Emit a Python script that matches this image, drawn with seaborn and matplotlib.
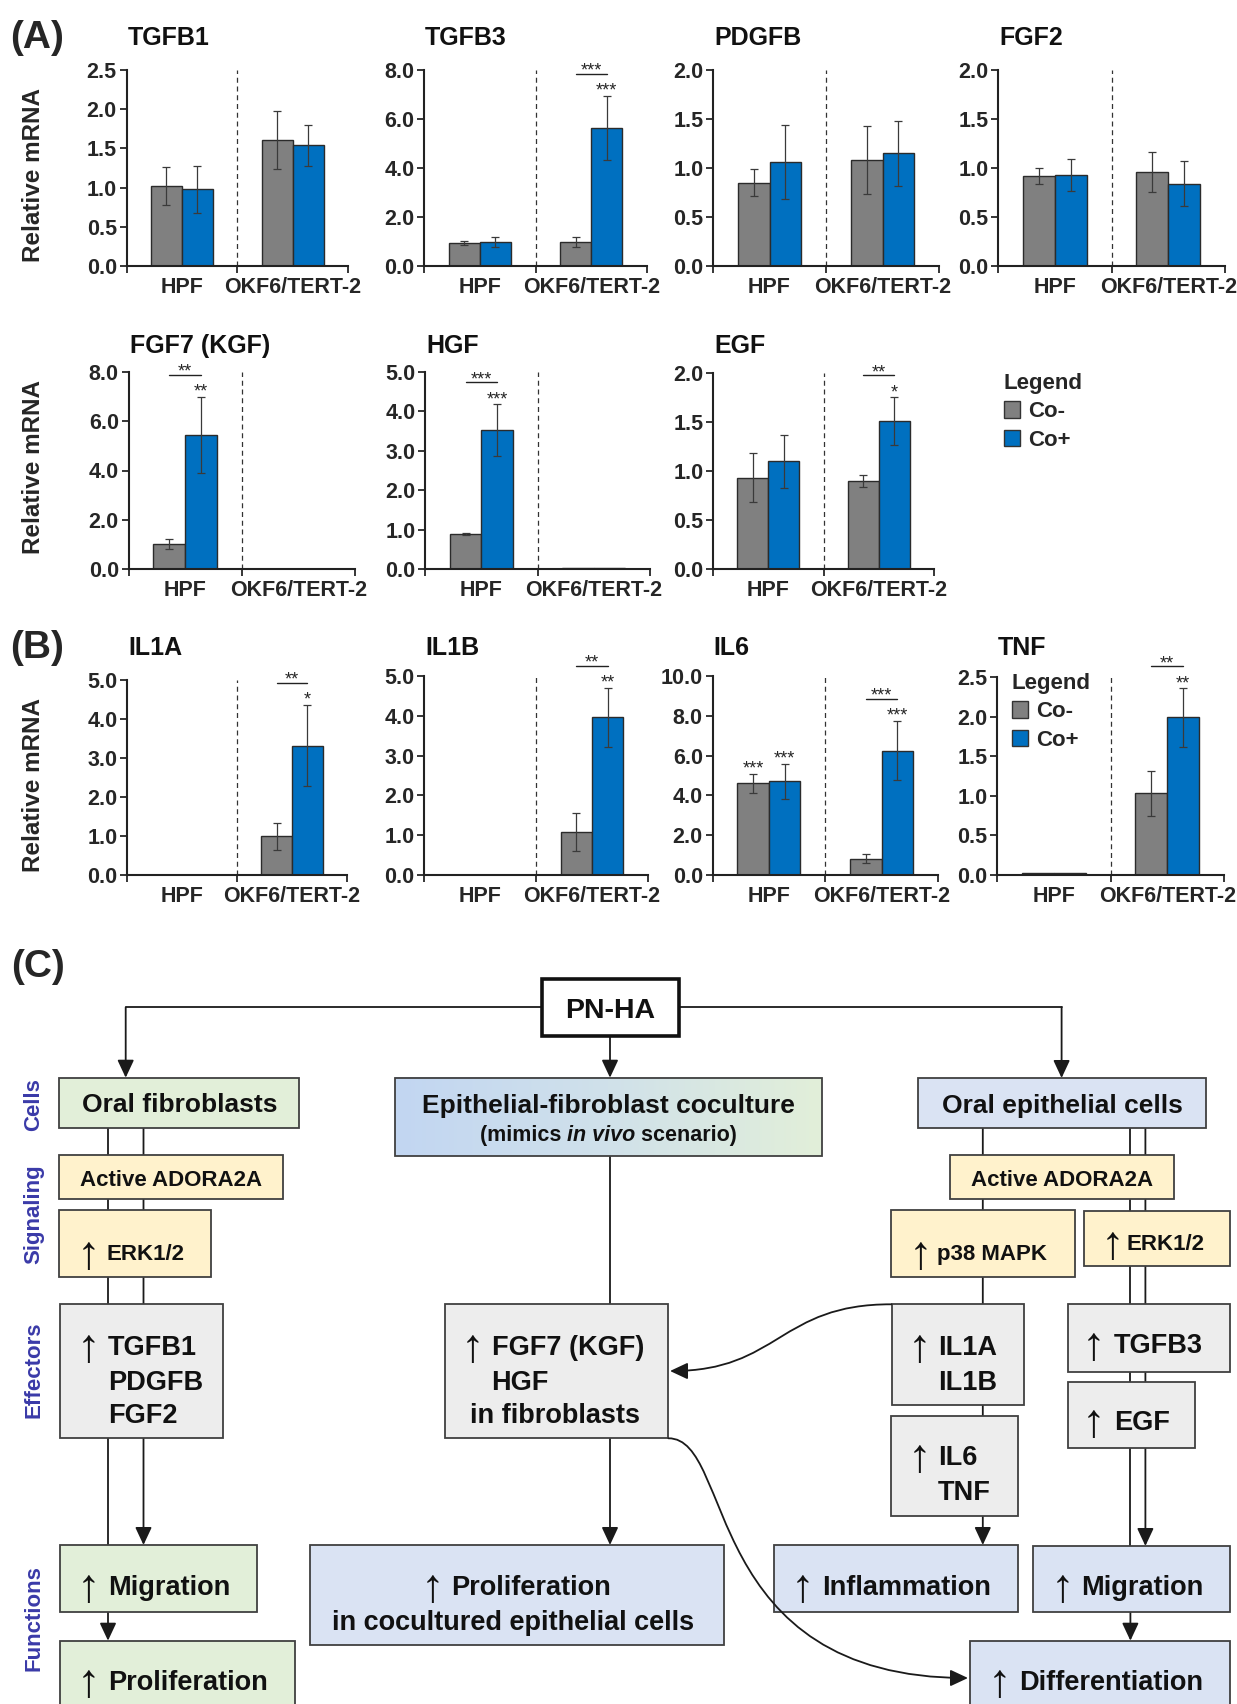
import numpy as np
import pandas as pd
import seaborn as sns
import matplotlib.pyplot as plt
from matplotlib.patches import Rectangle, Patch, FancyArrowPatch
from matplotlib.path import Path
from matplotlib.transforms import ScaledTranslation
from matplotlib.colors import LinearSegmentedColormap

sns.set_style('ticks')
plt.rcParams['font.family'] = ['Liberation Sans', 'DejaVu Sans']
plt.rcParams['font.weight'] = 'bold'

W, H = 1237, 1704

# ---------------- data: relative mRNA, order [HPF, OKF6/TERT-2] ----------------
genes = ['TGFB1', 'TGFB3', 'PDGFB', 'FGF2', 'FGF7 (KGF)', 'HGF', 'EGF',
         'IL1A', 'IL1B', 'IL6', 'TNF']
cells = ['HPF', 'OKF6/TERT-2']
conditions = ['Co-', 'Co+']
co_minus = [[1.02, 1.61], [0.95, 0.98], [0.85, 1.08], [0.92, 0.96], [1.01, 0.0], [0.89, 0.02],
            [0.93, 0.90], [0.01, 0.99], [0.0, 1.08], [4.60, 0.82], [0.02, 1.03]]
co_minus_sd = [[0.24, 0.37], [0.08, 0.22], [0.14, 0.35], [0.08, 0.20], [0.20, 0.0], [0.02, 0.0],
               [0.25, 0.06], [0.0, 0.34], [0.0, 0.47], [0.50, 0.22], [0.0, 0.28]]
co_plus = [[0.98, 1.54], [0.97, 5.64], [1.06, 1.15], [0.93, 0.84], [5.44, 0.0], [3.52, 0.02],
           [1.10, 1.51], [0.01, 3.32], [0.0, 3.96], [4.70, 6.25], [0.02, 1.99]]
co_plus_sd = [[0.30, 0.26], [0.20, 1.30], [0.38, 0.33], [0.16, 0.23], [1.55, 0.0], [0.66, 0.0],
              [0.27, 0.245], [0.0, 1.04], [0.0, 0.75], [0.90, 1.50], [0.0, 0.37]]
ymax = [2.5, 8, 2, 2, 8, 5, 2, 5, 5, 10, 2.5]
ystep = [0.5, 2, 0.5, 0.5, 2, 1, 0.5, 1, 1, 2, 0.5]

# significance: (gene, cell index, text) bracket Co- vs Co+; (gene, cell, condition, text) over a bar
brackets = [('TGFB3', 1, '***'), ('FGF7 (KGF)', 0, '**'), ('HGF', 0, '***'), ('EGF', 1, '**'),
            ('IL1A', 1, '**'), ('IL1B', 1, '**'), ('IL6', 1, '***'), ('TNF', 1, '**')]
bar_stars = [('TGFB3', 1, 1, '***'), ('FGF7 (KGF)', 0, 1, '**'), ('HGF', 0, 1, '***'),
             ('EGF', 1, 1, '*'), ('IL1A', 1, 1, '*'), ('IL1B', 1, 1, '**'),
             ('IL6', 0, 0, '***'), ('IL6', 0, 1, '***'), ('IL6', 1, 1, '***'), ('TNF', 1, 1, '**')]

palette = {'Co-': '#808080', 'Co+': '#0070c0'}

# axes boxes in pixels: left, top, right, bottom
rects = [(126.5, 70, 348, 266), (424, 70, 647, 266), (713, 70, 939, 266), (998, 70, 1225, 266),
         (128.5, 372, 355, 569), (425, 372, 650, 569), (713, 373, 934, 569),
         (127.3, 680, 347, 875), (424, 676, 648, 875), (712.5, 676, 938, 875), (997, 677, 1224, 875)]
title_base = [45, 45, 45, 45, 353, 353, 353, 655, 655, 655, 655]

fig = plt.figure(figsize=(W / 100, H / 100), dpi=100)

# overlay axes in pixel units for the labels and the diagram
axc = fig.add_axes([0, 0, 1, 1], zorder=0)
axc.set_xlim(0, W)
axc.set_ylim(H, 0)
axc.axis('off')


def put(x, y, s, size, ha='left', weight='bold', style='normal', color='#111111', **kw):
    return axc.text(x, y + 0.36 * size * 100 / 72, s, fontsize=size, ha=ha, va='baseline',
                    fontweight=weight, fontstyle=style, color=color, **kw)


def draw_gene(i):
    l, t, r, b = rects[i]
    ax = fig.add_axes([l / W, 1 - b / H, (r - l) / W, (b - t) / H], zorder=1)
    ax.patch.set_alpha(0)
    df = pd.DataFrame({'cell': cells * 2,
                       'cond': [conditions[0]] * 2 + [conditions[1]] * 2,
                       'value': co_minus[i] + co_plus[i]})
    sns.barplot(data=df, x='cell', y='value', hue='cond', order=cells, hue_order=conditions,
                palette=palette, saturation=1, width=0.56, errorbar=None, edgecolor='#2b2b2b',
                linewidth=1, legend=False, ax=ax)
    sds = [co_minus_sd[i], co_plus_sd[i]]
    centers = {}
    tops = {}
    bar_groups = list(ax.containers)
    for k, cont in enumerate(bar_groups):
        for j, bar in enumerate(cont.patches):
            xc = bar.get_x() + bar.get_width() / 2
            centers[(j, k)] = xc
            tops[(j, k)] = bar.get_height() + sds[k][j]
            if sds[k][j] > 0:
                ax.errorbar(xc, bar.get_height(), yerr=sds[k][j], fmt='none', ecolor='#3a3a3a',
                            elinewidth=0.9, capsize=3, capthick=0.9)
    ax.axvline(0.5, ls=(0, (4, 3)), lw=0.9, color='#333333')
    ax.set_xlim(-0.5, 1.5)
    ax.set_ylim(0, ymax[i])
    yt = np.arange(0, ymax[i] + ystep[i] / 2, ystep[i])
    ax.set_yticks(yt)
    ax.set_yticklabels([f'{v:.1f}' for v in yt])
    ax.set_xticks([0, 1])
    ax.set_xticklabels(cells)
    ax.set_xticks([-0.5, 0.5, 1.5], minor=True)
    ax.tick_params(axis='x', which='major', length=0, pad=8, labelsize=15.5)
    ax.tick_params(axis='x', which='minor', length=5, width=1.3)
    ax.tick_params(axis='y', length=5, width=1.3, pad=2, labelsize=15.5)
    for lab in ax.get_xticklabels() + ax.get_yticklabels():
        lab.set_fontweight('bold')
    ax.set_xlabel('')
    ax.set_ylabel('')
    sns.despine(ax=ax)
    for s in ('left', 'bottom'):
        ax.spines[s].set_linewidth(1.5)
        ax.spines[s].set_color('#222222')

    for g, c, txt in brackets:
        if g != genes[i]:
            continue
        base = tops[(c, 1)]
        tr = ax.transData + ScaledTranslation(0, 22 / 100, fig.dpi_scale_trans)
        ax.plot([centers[(c, 0)], centers[(c, 1)]], [base, base], transform=tr,
                color='#222222', lw=1, clip_on=False)
        ax.annotate(txt, ((centers[(c, 0)] + centers[(c, 1)]) / 2, base), xytext=(0, 20 * 0.72),
                    textcoords='offset points', ha='center', va='baseline', fontsize=13,
                    fontweight='normal', annotation_clip=False)
    for g, c, k, txt in bar_stars:
        if g != genes[i]:
            continue
        ax.annotate(txt, (centers[(c, k)], tops[(c, k)]), xytext=(0, 0),
                    textcoords='offset points', ha='center', va='baseline', fontsize=13,
                    fontweight='normal', annotation_clip=False)
    put(l + 1, title_base[i] - 0.36 * 18 * 100 / 72, genes[i], 18)
    return ax


for i in range(len(genes)):
    draw_gene(i)

# y labels and panel letters
for yc in (175.5, 467, 785.5):
    axc.text(34, yc, 'Relative mRNA', rotation=90, ha='center', va='center', fontsize=17.5,
             fontweight='bold')
for x, y, s in ((37, 38, '(A)'), (37, 648, '(B)'), (38, 967, '(C)')):
    axc.text(x, y, s, ha='center', va='center', fontsize=28, fontweight='bold')

# legends
handles = [Patch(facecolor=palette[c], edgecolor='#333333', lw=1) for c in conditions]
for x, y in ((1003.7, 373), (1011.6, 673)):
    fig.legend(handles, conditions, title='Legend', loc='upper left', bbox_to_anchor=(x, y),
               bbox_transform=axc.transData, frameon=False, fontsize=16, alignment='left',
               title_fontproperties={'weight': 'bold', 'size': 16}, handlelength=0.75,
               handleheight=0.75, handletextpad=0.35, labelspacing=0.33, borderpad=0,
               borderaxespad=0)

# ---------------- (C) diagram ----------------
GREEN, BLUE, YELLOW, GRAY = '#e2efd9', '#dae3f3', '#fff2cc', '#ededed'
LINE = '#1a1a1a'
boxes = [(59.3, 1077.7, 299.3, 1127.7, GREEN), (918.3, 1078, 1205.6, 1127.7, BLUE),
         (59.3, 1155, 283, 1199.3, YELLOW), (949.8, 1155, 1173.7, 1199.3, YELLOW),
         (59.3, 1210, 210.7, 1277.3, YELLOW), (890.8, 1210, 1074.5, 1276.7, YELLOW),
         (1084.4, 1211, 1230, 1266, YELLOW),
         (60, 1304.3, 222.6, 1438.3, GRAY), (444.8, 1304.3, 668.4, 1438.3, GRAY),
         (891.5, 1304.3, 1024.2, 1405, GRAY), (890.8, 1415.7, 1017.5, 1515.7, GRAY),
         (1067.5, 1304.3, 1230, 1371.7, GRAY), (1067.5, 1381.7, 1195.4, 1448.3, GRAY),
         (60, 1545, 257, 1611.7, GREEN), (60, 1640.7, 295.4, 1730, GREEN),
         (310.4, 1545, 724.3, 1645, BLUE), (773.5, 1545, 1018.3, 1611.7, BLUE),
         (1033.2, 1546, 1230, 1612.3, BLUE), (970.3, 1640.7, 1230, 1730, BLUE)]
for x0, y0, x1, y1, col in boxes:
    axc.add_patch(Rectangle((x0, y0), x1 - x0, y1 - y0, facecolor=col, edgecolor='#404040',
                            lw=1.3, zorder=3))

# gradient coculture box
cmap = LinearSegmentedColormap.from_list('cc', ['#c2d6f2', '#d0e1ea', '#e2efd9'])
axc.imshow(np.linspace(0, 1, 256)[None, :], cmap=cmap, extent=(395.4, 821.9, 1156, 1077.7),
           aspect='auto', zorder=3)
axc.add_patch(Rectangle((395.4, 1077.7), 821.9 - 395.4, 1156 - 1077.7, facecolor='none',
                        edgecolor='#404040', lw=1.3, zorder=3.5))
# PN-HA
axc.add_patch(Rectangle((541.7, 979.3), 679 - 541.7, 1035.7 - 979.3, facecolor='white',
                        edgecolor='#111111', lw=2.6, zorder=3))
axc.set_xlim(0, W)
axc.set_ylim(H, 0)

AST = '-|>,head_length=0.77,head_width=0.36'


def seg(p, q, arrow=False):
    if arrow:
        axc.annotate('', xy=q, xytext=p, arrowprops=dict(arrowstyle=AST, mutation_scale=14,
                     lw=1.3, color=LINE, shrinkA=0, shrinkB=0), zorder=2)
    else:
        axc.plot([p[0], q[0]], [p[1], q[1]], color=LINE, lw=1.3, zorder=2)


seg((541.7, 1007.3), (125.7, 1007.3))
seg((125.7, 1007.3), (125.7, 1077.7), True)
seg((679, 1007.3), (1061.6, 1007.3))
seg((1061.6, 1007.3), (1061.6, 1078), True)
seg((610, 1035.7), (610, 1077.7), True)
seg((108, 1127.7), (108, 1545))
seg((143.5, 1127.7), (143.5, 1545), True)
seg((108, 1611.7), (108, 1640.7), True)
seg((610, 1156), (610, 1545), True)
seg((982.8, 1127.7), (982.8, 1545), True)
seg((1130.4, 1127.7), (1130.4, 1546))
seg((1145.4, 1127.7), (1145.4, 1546), True)
seg((1130.4, 1612.3), (1130.4, 1640.7), True)

for pts in ([(891.5, 1304.3), (779, 1304), (779, 1371), (670, 1371)],
            [(668.4, 1438.3), (735, 1438), (700, 1678), (968, 1678)]):
    path = Path(pts, [Path.MOVETO, Path.CURVE4, Path.CURVE4, Path.CURVE4])
    axc.add_patch(FancyArrowPatch(path=path, arrowstyle=AST, mutation_scale=14, lw=1.3,
                                  color=LINE, zorder=4))

# box texts
put(610.3, 1007.5, 'PN-HA', 20.5, ha='center', zorder=5)
put(179.3, 1103, 'Oral fibroblasts', 19, ha='center', zorder=5)
put(608.6, 1103.3, 'Epithelial-fibroblast coculture', 19, ha='center', zorder=5)
put(1062, 1103, 'Oral epithelial cells', 19, ha='center', zorder=5)
put(171, 1177.5, 'Active ADORA2A', 16, ha='center', zorder=5)
put(1061.7, 1177.5, 'Active ADORA2A', 16, ha='center', zorder=5)

# mixed style line
rend = fig.canvas.get_renderer()
parts = [('(mimics ', 'normal'), ('in vivo', 'italic'), (' scenario)', 'normal')]
objs = [put(0, 1133.3, s, 15.5, style=st, zorder=5) for s, st in parts]
widths = [o.get_window_extent(renderer=rend).width for o in objs]
x = 608.6 - sum(widths) / 2
for o, w in zip(objs, widths):
    o.set_x(x)
    x += w

lines = [(106, 1251.7, 'ERK1/2', 16), (936.8, 1251.7, 'p38 MAPK', 16), (1126.9, 1242.3, 'ERK1/2', 16),
         (108, 1345, 'TGFB1', 19.5), (108, 1380, 'PDGFB', 19.5), (108, 1413.3, 'FGF2', 19.5),
         (491.5, 1345, 'FGF7 (KGF)', 19.5), (491.5, 1380, 'HGF', 19.5),
         (469.7, 1413.3, 'in fibroblasts', 19.5),
         (938, 1345, 'IL1A', 19.5), (938, 1380, 'IL1B', 19.5), (938, 1455, 'IL6', 19.5),
         (938, 1490.7, 'TNF', 19.5), (1114, 1343.3, 'TGFB3', 19.5), (1114, 1420, 'EGF', 19.5),
         (108, 1585, 'Migration', 19.5), (108, 1680, 'Proliferation', 19.5),
         (450.8, 1585, 'Proliferation', 19.5), (821.9, 1585, 'Inflammation', 19.5),
         (1081.2, 1585, 'Migration', 19.5), (1019.5, 1680, 'Differentiation', 19.5)]
for x, y, s, sz in lines:
    put(x, y, s, sz, zorder=5)
put(513, 1620, 'in cocultured epithelial cells', 19.5, ha='center', zorder=5)

ups = [(79, 1251.7), (911, 1251.7), (1103, 1242.3), (79, 1345), (462.6, 1345), (910, 1345),
       (910, 1455), (1084, 1343.3), (1084, 1420), (79, 1585), (79, 1680), (423, 1585),
       (793, 1585), (1053, 1585), (990, 1680)]
for x, y in ups:
    axc.text(x - 2, y, '\u2191', fontsize=34, ha='left', va='center_baseline',
             fontweight='normal', color='#111111', zorder=5)

for y, s in ((1105, 'Cells'), (1214, 'Signaling'), (1370, 'Effectors'), (1618, 'Functions')):
    axc.text(33.6, y, s, rotation=90, ha='center', va='center', fontsize=16, fontweight='bold',
             color='#3a3aa8')

fig.savefig('out.png', dpi=100)
